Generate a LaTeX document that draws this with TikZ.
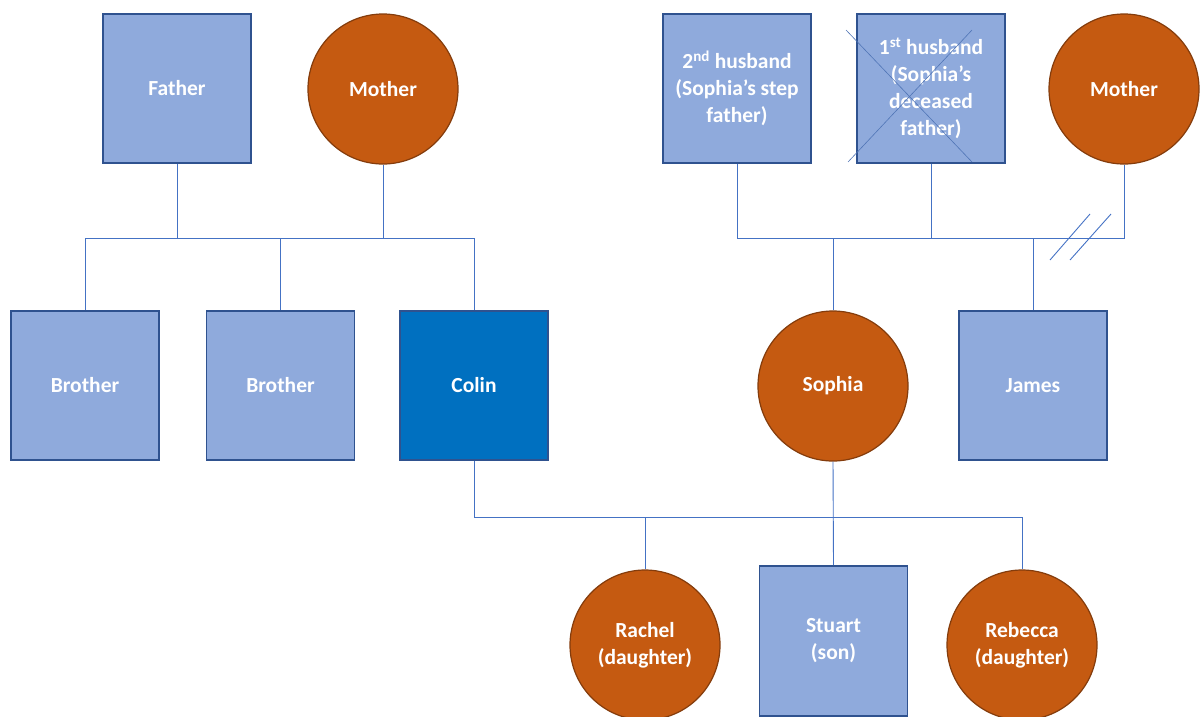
\documentclass[tikz,border=0pt]{standalone}
\usepackage{fontspec}
\setmainfont{Carlito}
\definecolor{boxfill}{HTML}{8FAADC}
\definecolor{boxline}{HTML}{2F528F}
\definecolor{colinfill}{HTML}{0070C0}
\definecolor{circfill}{HTML}{C55A11}
\definecolor{circline}{HTML}{843C0C}
\definecolor{connc}{HTML}{4472C4}
\tikzset{
  male/.style={draw=boxline, fill=boxfill, line width=1.8pt, minimum width=148pt, minimum height=149pt, inner sep=0pt, text=white, font=\bfseries\fontsize{21.5}{27}\selectfont, align=center},
  female/.style={circle, draw=circline, fill=circfill, line width=1.2pt, minimum size=150pt, inner sep=0pt, text=white, font=\bfseries\fontsize{21.5}{27}\selectfont, align=center},
  conn/.style={draw=connc, line width=0.9pt},
}
\begin{document}
\begin{tikzpicture}[x=1pt,y=-1pt]
\useasboundingbox (0,0) rectangle (1204,716);
% left family
\node[male] (father) at (177,88.5) {Father};
\node[female] (mother) at (383,89) {Mother};
\node[male] (b1) at (85,385.5) {Brother};
\node[male] (b2) at (280.5,385.5) {Brother};
\node[male, fill=colinfill] (colin) at (474,385.5) {Colin};
% right family
\node[male] (hus2) at (737,88.5) {2\textsuperscript{nd} husband\\(Sophia’s step\\father)};
\node[male] (hus1) at (931,88.5) {1\textsuperscript{st} husband\\(Sophia’s\\deceased\\father)};
\node[female] (mother2) at (1124,89) {Mother};
\node[female] (sophia) at (833,386) {Sophia};
\node[male] (james) at (1033,385.5) {James};
% children
\node[female] (rachel) at (645,645) {Rachel\\(daughter)};
\node[male, minimum height=150pt] (stuart) at (833.5,641) {Stuart\\(son)};
\node[female] (rebecca) at (1022,645) {Rebecca\\(daughter)};
% cross on deceased
\draw[connc!80!gray, line width=0.6pt] (846,30) -- (972,162) (972,30) -- (848,162);
% bars
\coordinate (barL) at (0,238);
\coordinate (barR) at (0,238);
\coordinate (barB) at (0,517);
\draw[conn] (b1.north) -- (b1.north |- barL) -- (colin.north |- barL) -- (colin.north);
\draw[conn] (b2.north) -- (b2.north |- barL);
\draw[conn] (father.south) -- (father.south |- barL);
\draw[conn] (mother.south) -- (mother.south |- barL);
\draw[conn] (hus2.south) -- (hus2.south |- barR) -- (mother2.south |- barR) -- (mother2.south);
\draw[conn] (hus1.south) -- (hus1.south |- barR);
\draw[conn] (sophia.north) -- (sophia.north |- barR);
\draw[conn] (james.north) -- (james.north |- barR);
\draw[conn] (colin.south) -- (colin.south |- barB) -- (rebecca.north |- barB) -- (rebecca.north);
\draw[conn] (sophia.south) -- (stuart.north);
\draw[conn] (rachel.north) -- (rachel.north |- barB);
% divorce marks
\coordinate (s1a) at (1050,260); \coordinate (s1b) at (1090,214);
\coordinate (s2a) at (1070,260); \coordinate (s2b) at (1111,214);
\draw[conn] (s1a) -- (s1b);
\draw[conn] (s2a) -- (s2b);
\end{tikzpicture}
\end{document}
